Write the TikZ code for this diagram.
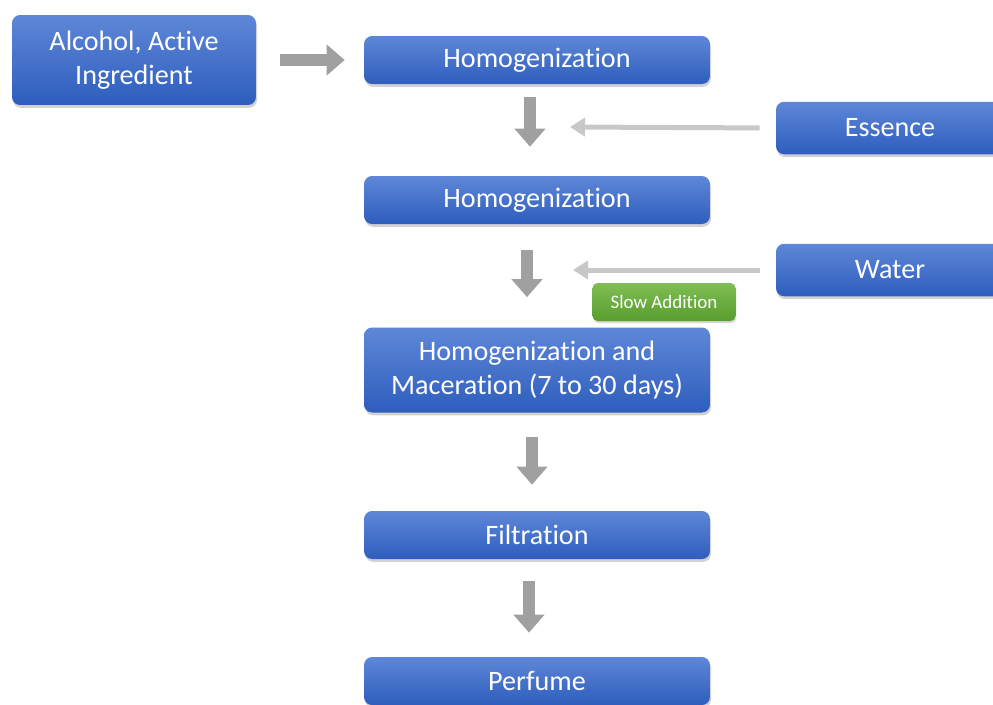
\documentclass[tikz,border=0pt]{standalone}
\usepackage{fontspec}
\setmainfont{Carlito}[Ligatures=NoCommon]
\usetikzlibrary{arrows.meta, positioning, shadows}
\definecolor{boxtop}{RGB}{94,135,215}
\definecolor{boxbot}{RGB}{46,93,189}
\definecolor{greentop}{RGB}{128,190,84}
\definecolor{greenbot}{RGB}{88,157,46}
\definecolor{fatgray}{RGB}{160,160,160}
\definecolor{thingray}{RGB}{200,200,200}

\begin{document}
\begin{tikzpicture}[
    x=0.02cm, y=-0.02cm,
    block/.style={rectangle, draw=none, rounded corners=0.16cm, top color=boxtop, bottom color=boxbot, text=white, align=center, font=\fontsize{16}{19.5}\selectfont, drop shadow={shadow xshift=0.6pt, shadow yshift=-1.6pt, fill=black!35}},
    procbox/.style={block, minimum width=6.92cm, minimum height=0.96cm},
    sidebox/.style={block, minimum width=4.56cm, minimum height=1.05cm},
    slowbox/.style={rectangle, draw=none, rounded corners=0.1cm, top color=greentop, bottom color=greenbot, text=white, font=\fontsize{10.8}{12}\selectfont, minimum width=2.86cm, minimum height=0.76cm, drop shadow={shadow xshift=0.5pt, shadow yshift=-1.2pt, fill=black!30}},
    fatarrow/.style={draw=fatgray, line width=0.24cm, -{Triangle[width=0.6cm, length=0.36cm]}},
    thinarrow/.style={draw=thingray, line width=0.1cm, -{Triangle[width=0.36cm, length=0.3cm]}}
]
\clip (0,0) rectangle (993,704);
\fill[white] (0,0) rectangle (993,704);

% main column
\node[block, minimum width=4.88cm, minimum height=1.8cm] (alc) at (134,60) {Alcohol, Active\\Ingredient};
\node[procbox] (homa) at (537,60) {Homogenization};
\node[procbox] (homb) at (537,200) {Homogenization};
\node[procbox, minimum height=1.7cm] (mac) at (537,370) {Homogenization and\\Maceration (7 to 30 days)};
\node[procbox] (filt) at (537,535) {Filtration};
\node[procbox] (perf) at (537,681) {Perfume};

% side inputs
\node[sidebox] (ess) at (890,128) {Essence};
\node[sidebox] (wat) at (890,270) {Water};
\coordinate (essin) at (570,127);
\coordinate (watin) at (573,270);

% connectors
\draw[fatarrow, shorten <=0.48cm, shorten >=0.38cm] (alc) -- (homa);
\draw[fatarrow, shorten <=0.26cm, shorten >=0.58cm] ([xshift=-0.14cm]homa.south) -- ([xshift=-0.14cm]homb.north);
\draw[fatarrow, shorten <=0.52cm, shorten >=0.6cm] ([xshift=-0.2cm]homb.south) -- ([xshift=-0.2cm]mac.north);
\draw[fatarrow, shorten <=0.48cm, shorten >=0.52cm] ([xshift=-0.1cm]mac.south) -- ([xshift=-0.1cm]filt.north);
\draw[fatarrow, shorten <=0.44cm, shorten >=0.48cm] ([xshift=-0.16cm]filt.south) -- ([xshift=-0.16cm]perf.north);
\draw[thinarrow, shorten <=0.32cm] (ess.west) -- (essin);
\draw[thinarrow, shorten <=0.32cm] (wat.west) -- (watin);

\node[slowbox] (slow) at (664,302) {Slow Addition};

\end{tikzpicture}
\end{document}
